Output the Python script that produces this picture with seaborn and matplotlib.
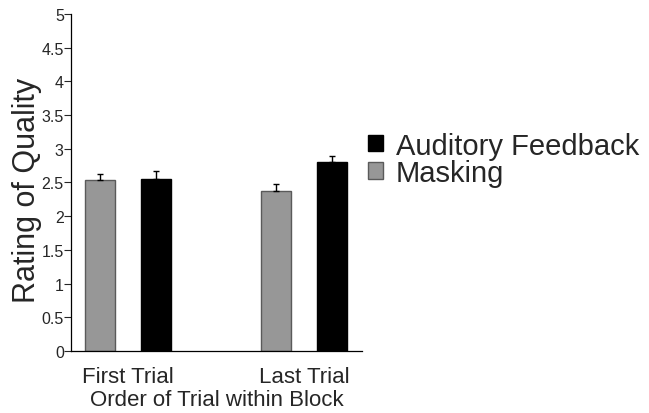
import numpy as np
import pandas as pd
import seaborn as sns
import matplotlib
matplotlib.use("Agg")
import matplotlib.pyplot as plt
from matplotlib.patches import Patch

# values
trial_order = ["First Trial", "Last Trial"]
conditions = ["Masking", "Auditory Feedback"]
masking_mean = [2.53, 2.37]
masking_err = [0.09, 0.11]
auditory_mean = [2.55, 2.81]
auditory_err = [0.12, 0.08]
y_ticks = [0, 0.5, 1, 1.5, 2, 2.5, 3, 3.5, 4, 4.5, 5]
y_ticklabels = ["0", "0.5", "1", "1.5", "2", "2.5", "3", "3.5", "4", "4.5", "5"]

colors = {"Masking": "#979797", "Auditory Feedback": "#000000"}
edges = {"Masking": "#5a5a5a", "Auditory Feedback": "#000000"}

df = pd.DataFrame({
    "order": trial_order * 2,
    "condition": ["Masking"] * 2 + ["Auditory Feedback"] * 2,
    "rating": masking_mean + auditory_mean,
    "err": masking_err + auditory_err,
})

sns.set_style("white")
plt.rcParams["font.family"] = ["Liberation Sans", "DejaVu Sans"]

fig = plt.figure(figsize=(6.49, 4.14), dpi=100)
ax = fig.add_axes([0.109, 0.150, 0.449, 0.814])

sns.barplot(data=df, x="order", y="rating", hue="condition",
            hue_order=conditions, order=trial_order, palette=colors,
            width=0.64, gap=0.47, errorbar=None, legend=False, ax=ax)

# colour edges and draw upward-only error bars
for cond, cont in zip(conditions, ax.containers):
    sub = df[df["condition"] == cond].set_index("order").loc[trial_order]
    xs = []
    for p in cont.patches:
        p.set_edgecolor(edges[cond])
        p.set_linewidth(1.0)
        xs.append(p.get_x() + p.get_width() / 2)
    ax.errorbar(xs, sub["rating"].values,
                yerr=[np.zeros(len(xs)), sub["err"].values],
                fmt="none", ecolor="black", elinewidth=1.0,
                capsize=2.5, capthick=1.0, zorder=3)

ax.set_xlim(-0.324, 1.33)
ax.set_ylim(0, 5)
ax.set_yticks(y_ticks)
ax.set_yticklabels(y_ticklabels, fontsize=11.5)
ax.tick_params(axis="y", left=True, length=5, width=0.8, pad=0, direction="out")
ax.tick_params(axis="x", bottom=False, length=0, pad=11, labelsize=16)
for lab in ax.get_yticklabels():
    lab.set_fontstretch("condensed")

sns.despine(ax=ax, top=True, right=True)
for side in ["left", "bottom"]:
    ax.spines[side].set_color("black")
    ax.spines[side].set_linewidth(0.9)

ax.set_ylabel("Rating of Quality", fontsize=22)
ax.yaxis.set_label_coords(-0.10, 0.48)
ax.set_xlabel("Order of Trial within Block", fontsize=16, labelpad=1)

handles = [Patch(facecolor=colors[c], edgecolor=edges[c], label=c)
           for c in ["Auditory Feedback", "Masking"]]
fig.legend(handles=handles, loc="center left", bbox_to_anchor=(0.545, 0.613),
           frameon=False, fontsize=21, handlelength=0.5, handleheight=0.5,
           handletextpad=0.45, labelspacing=-0.02, borderpad=0)

fig.savefig("out.png", dpi=100)
